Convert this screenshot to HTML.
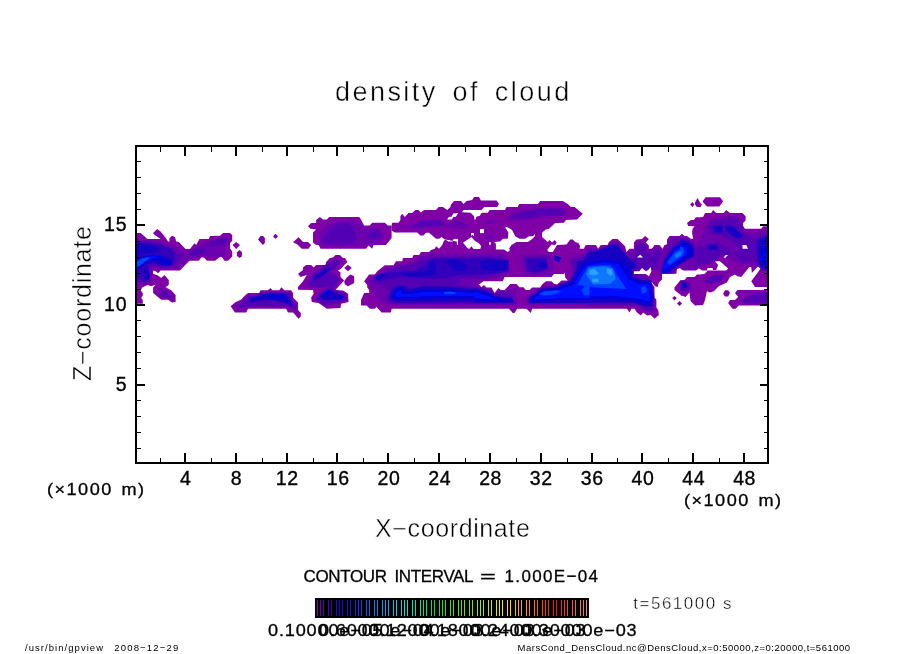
<!DOCTYPE html>
<html><head><meta charset="utf-8"><title>density of cloud</title>
<style>
html,body{margin:0;padding:0;background:#fff;}
body{width:904px;height:654px;overflow:hidden;position:relative;font-family:"Liberation Sans",sans-serif;color:#000;}
svg{position:absolute;left:0;top:0;}
.t{position:absolute;white-space:pre;line-height:1;margin:0;padding:0;}
</style></head><body>

<svg width="904" height="654" viewBox="0 0 904 654">
<defs><clipPath id="cp">
<polygon points="137.0,233.0 140.6,233.0 147.5,238.9 160.6,238.9 153.8,234.2 153.1,233.0 157.2,228.9 160.6,231.4 165.0,237.0 168.1,241.4 169.4,241.4 169.4,238.2 171.9,235.8 175.0,237.0 176.2,241.4 178.8,242.0 185.6,248.9 190.0,248.9 194.4,243.2 196.2,245.1 199.4,238.9 208.8,238.9 210.0,236.0 220.0,235.8 223.1,233.0 230.0,233.0 232.2,235.1 232.2,240.8 230.0,243.2 230.0,248.2 232.2,251.4 232.2,256.4 228.1,260.8 224.4,260.8 221.9,257.0 220.0,257.0 215.0,260.8 206.9,260.8 203.8,257.6 201.2,257.6 198.8,260.8 189.4,260.8 180.0,270.5 160.6,270.5 158.1,273.2 155.0,270.8 153.1,270.8 153.1,273.8 158.1,275.6 161.2,278.1 164.4,275.0 168.8,280.0 168.8,284.8 165.6,287.2 171.2,290.2 175.6,295.0 175.6,301.9 171.9,302.5 168.1,299.8 161.2,299.8 153.1,293.1 153.1,287.5 155.6,284.8 151.2,286.2 147.5,285.0 142.5,287.2 140.6,290.2 142.8,293.1 142.8,295.6 141.2,298.1 142.8,300.0 142.8,303.8 136.0,303.8 136.0,233.0"/>
<polygon points="232.5,245.1 236.2,242.0 240.0,245.1 236.2,248.9"/>
<polygon points="236.9,252.6 239.4,250.1 241.9,252.0 241.9,256.4 239.4,258.0 236.9,255.8"/>
<polygon points="230.6,306.2 235.0,302.5 241.2,299.4 244.2,296.2 248.0,293.1 259.2,293.1 260.5,290.2 268.0,290.2 270.5,288.1 272.4,290.2 279.2,290.2 281.5,287.2 284.2,290.2 291.1,290.2 293.0,293.1 293.0,297.5 298.0,302.5 298.0,310.0 300.8,313.1 300.8,316.2 298.6,318.8 293.0,312.5 288.0,312.5 286.1,308.8 248.0,308.8 246.2,312.5 235.0,312.5"/>
<polygon points="298.0,273.8 303.0,270.0 303.0,267.5 306.1,265.0 311.1,265.0 313.6,267.5 316.1,265.0 325.5,265.0 326.1,261.9 329.9,258.1 333.0,257.5 335.5,255.0 339.9,255.0 343.0,258.1 344.9,258.1 347.4,261.9 344.2,265.0 341.1,268.8 338.0,270.6 340.5,272.5 340.5,276.9 344.2,280.6 341.1,283.8 335.5,290.0 343.0,290.6 348.0,293.8 348.6,301.9 341.1,303.8 340.5,308.1 326.8,308.8 318.6,303.1 311.8,301.9 311.1,297.5 313.6,293.8 313.0,290.0 298.0,289.8 298.0,286.9 303.0,281.2 306.8,275.0 300.5,276.9"/>
<polygon points="344.2,268.1 348.0,264.8 351.8,268.1 348.0,271.2"/>
<polygon points="344.2,281.2 346.8,277.5 350.5,274.4 354.2,276.2 354.2,283.1 348.0,286.2 344.9,284.4"/>
<polygon points="258.0,239.4 260.5,236.0 263.0,236.0 264.9,238.1 264.9,243.1 263.0,245.0 261.1,243.1"/>
<polygon points="273.0,236.2 275.5,233.8 278.0,236.2 275.5,239.0"/>
<polygon points="293.0,242.2 298.6,237.2 303.0,241.9 308.0,241.9 311.1,245.0 308.6,248.8 301.8,248.8 297.4,244.4"/>
<polygon points="308.0,226.2 311.1,223.1 316.1,223.1 316.1,220.0 319.9,216.9 323.0,219.4 326.8,219.4 329.2,216.9 359.2,216.9 361.0,219.4 364.1,225.6 369.8,225.6 372.2,222.8 384.8,222.8 387.9,225.6 391.6,225.6 391.6,238.1 386.0,245.0 373.5,245.0 372.2,248.8 368.5,245.6 366.0,248.8 320.5,248.8 318.6,245.0 316.1,245.0 313.0,242.5 313.0,232.5 316.1,229.4 310.5,228.8"/>
<polygon points="391.6,230.6 391.6,225.6 392.2,222.8 398.5,222.8 400.4,220.0 400.4,216.2 402.2,213.8 404.8,216.9 408.5,213.1 412.2,213.1 415.4,210.0 418.5,210.0 421.0,212.5 424.1,210.0 436.0,210.0 438.5,207.1 442.9,207.1 447.2,210.0 450.4,207.1 451.0,204.4 454.1,201.0 461.0,201.0 463.5,204.0 466.6,201.0 472.2,200.0 474.0,196.9 479.0,196.9 480.9,200.6 496.5,200.6 499.0,204.0 497.1,207.1 506.5,207.1 517.8,207.1 519.0,204.0 537.8,204.0 540.2,201.0 562.8,201.0 567.8,204.0 570.9,207.1 574.6,207.1 582.8,213.8 577.1,219.4 565.9,220.0 564.0,222.8 555.2,223.1 549.0,228.8 545.9,229.4 542.1,232.5 542.1,236.9 547.8,241.9 549.6,240.0 552.1,242.5 554.6,240.0 556.8,242.5 555.2,245.0 557.1,245.0 566.5,244.4 570.2,239.4 572.8,239.4 575.2,241.9 578.4,243.1 580.2,246.2 579.6,248.8 584.0,248.8 585.2,245.6 587.0,245.0 587.0,245.0 595.8,245.0 598.2,248.8 600.8,245.0 607.6,245.0 608.9,241.9 612.6,239.0 617.6,239.0 625.1,246.2 626.4,251.9 629.5,248.8 633.9,248.8 633.9,242.5 636.4,239.4 642.0,239.0 645.1,236.0 648.9,239.0 645.8,242.5 648.9,245.6 648.9,248.8 652.0,248.8 654.5,245.0 659.5,245.0 662.6,248.8 664.5,245.0 667.0,244.4 667.0,239.4 669.5,236.0 679.5,236.0 682.0,233.8 684.5,236.0 687.0,236.0 690.8,238.8 693.2,238.8 692.0,232.5 692.6,228.8 694.5,226.2 688.2,226.0 687.0,223.1 690.8,220.0 693.9,220.0 695.8,217.2 700.0,217.2 703.1,216.9 705.0,213.1 711.2,213.1 713.1,210.0 716.2,213.1 723.8,213.1 726.2,210.0 730.0,213.1 742.5,213.1 745.6,216.2 745.6,220.6 743.1,223.1 743.1,226.2 745.0,228.8 761.2,228.8 763.1,226.2 768.0,226.2 768.0,287.2 755.0,286.9 751.2,281.2 760.6,268.8 758.1,266.2 751.9,273.1 751.2,266.9 749.4,266.9 741.2,276.9 737.5,276.2 735.0,274.4 730.0,276.9 726.9,282.5 718.8,286.2 713.8,291.2 710.0,292.5 706.9,291.2 705.0,300.0 703.1,305.0 695.0,305.6 690.6,301.2 689.4,292.5 685.6,296.9 680.0,295.0 683.2,296.9 674.5,290.0 674.5,287.5 680.1,280.6 684.5,280.0 687.0,276.9 694.5,276.9 697.0,274.4 700.0,274.4 700.0,274.4 705.0,273.8 707.5,270.6 726.2,270.6 728.1,268.5 720.0,261.2 715.0,261.2 718.1,265.0 716.2,270.0 713.1,270.0 712.5,268.1 707.5,268.1 706.9,270.6 701.9,270.6 698.8,268.1 696.2,270.6 683.1,270.6 680.0,268.1 677.0,268.8 676.4,273.8 662.0,273.8 662.0,279.4 658.9,282.5 657.6,286.9 655.1,286.2 652.0,282.5 650.8,281.9 654.5,286.9 654.5,297.5 656.4,299.4 656.4,307.5 658.2,310.0 658.9,315.0 654.5,318.8 650.8,315.0 647.0,315.6 643.2,312.5 640.8,315.6 637.0,312.5 634.5,308.8 631.4,308.8 629.5,312.5 627.0,308.8 587.0,308.8 532.1,308.8 530.9,313.1 526.5,308.8 517.1,308.8 514.6,313.1 512.8,313.1 509.0,308.8 474.0,308.8 391.6,308.8 391.0,312.5 381.6,312.5 376.6,306.9 374.8,308.8 369.8,308.8 366.6,305.6 361.0,305.6 361.0,300.0 364.1,293.1 369.1,293.1 369.1,290.0 367.2,287.5 367.2,285.0 364.1,281.2 369.1,274.4 374.8,274.4 377.2,271.2 384.8,265.2 393.5,265.2 396.0,261.2 402.2,261.2 402.9,258.1 412.2,258.1 413.5,255.0 419.1,255.0 421.0,251.9 429.1,251.9 431.0,250.0 434.8,248.8 436.0,246.2 439.1,248.8 442.2,245.0 444.1,240.6 446.0,239.8 444.8,239.4 441.6,236.9 439.1,238.8 436.0,238.8 429.1,232.8 426.0,232.8 423.5,235.6 420.4,235.6 417.2,232.5 394.8,232.5"/>
<polygon points="737.5,290.0 768.0,290.0 768.0,305.6 738.8,305.6 735.6,308.8 732.5,308.8 728.1,303.1 730.0,300.0 735.0,300.0 738.1,296.9 735.0,293.1"/>
<polygon points="723.1,293.8 725.0,290.2 728.1,290.2 730.0,293.1 728.1,296.5 725.0,296.5"/>
<polygon points="672.2,298.1 674.5,295.9 676.8,298.1 674.5,300.4"/>
<polygon points="677.0,303.5 679.5,301.0 682.0,303.5 679.5,306.0"/>
<polygon points="690.0,204.4 692.5,201.9 694.4,204.4 692.5,206.9"/>
<polygon points="695.0,202.5 697.5,198.1 700.0,202.5 701.9,204.4 700.6,206.9 696.9,206.9 695.0,204.4"/>
<polygon points="702.5,201.5 705.6,197.2 720.0,197.2 723.1,201.2 719.4,206.5 706.9,206.5"/>
</clipPath><clipPath id="fr"><rect x="137" y="147" width="630" height="315"/></clipPath>
<filter id="bl" x="-5%" y="-5%" width="110%" height="110%"><feGaussianBlur stdDeviation="0.6"/></filter></defs>
<g clip-path="url(#fr)">
<g fill="#8000a8">
<polygon points="137.0,233.0 140.6,233.0 147.5,238.9 160.6,238.9 153.8,234.2 153.1,233.0 157.2,228.9 160.6,231.4 165.0,237.0 168.1,241.4 169.4,241.4 169.4,238.2 171.9,235.8 175.0,237.0 176.2,241.4 178.8,242.0 185.6,248.9 190.0,248.9 194.4,243.2 196.2,245.1 199.4,238.9 208.8,238.9 210.0,236.0 220.0,235.8 223.1,233.0 230.0,233.0 232.2,235.1 232.2,240.8 230.0,243.2 230.0,248.2 232.2,251.4 232.2,256.4 228.1,260.8 224.4,260.8 221.9,257.0 220.0,257.0 215.0,260.8 206.9,260.8 203.8,257.6 201.2,257.6 198.8,260.8 189.4,260.8 180.0,270.5 160.6,270.5 158.1,273.2 155.0,270.8 153.1,270.8 153.1,273.8 158.1,275.6 161.2,278.1 164.4,275.0 168.8,280.0 168.8,284.8 165.6,287.2 171.2,290.2 175.6,295.0 175.6,301.9 171.9,302.5 168.1,299.8 161.2,299.8 153.1,293.1 153.1,287.5 155.6,284.8 151.2,286.2 147.5,285.0 142.5,287.2 140.6,290.2 142.8,293.1 142.8,295.6 141.2,298.1 142.8,300.0 142.8,303.8 136.0,303.8 136.0,233.0"/>
<polygon points="232.5,245.1 236.2,242.0 240.0,245.1 236.2,248.9"/>
<polygon points="236.9,252.6 239.4,250.1 241.9,252.0 241.9,256.4 239.4,258.0 236.9,255.8"/>
<polygon points="230.6,306.2 235.0,302.5 241.2,299.4 244.2,296.2 248.0,293.1 259.2,293.1 260.5,290.2 268.0,290.2 270.5,288.1 272.4,290.2 279.2,290.2 281.5,287.2 284.2,290.2 291.1,290.2 293.0,293.1 293.0,297.5 298.0,302.5 298.0,310.0 300.8,313.1 300.8,316.2 298.6,318.8 293.0,312.5 288.0,312.5 286.1,308.8 248.0,308.8 246.2,312.5 235.0,312.5"/>
<polygon points="298.0,273.8 303.0,270.0 303.0,267.5 306.1,265.0 311.1,265.0 313.6,267.5 316.1,265.0 325.5,265.0 326.1,261.9 329.9,258.1 333.0,257.5 335.5,255.0 339.9,255.0 343.0,258.1 344.9,258.1 347.4,261.9 344.2,265.0 341.1,268.8 338.0,270.6 340.5,272.5 340.5,276.9 344.2,280.6 341.1,283.8 335.5,290.0 343.0,290.6 348.0,293.8 348.6,301.9 341.1,303.8 340.5,308.1 326.8,308.8 318.6,303.1 311.8,301.9 311.1,297.5 313.6,293.8 313.0,290.0 298.0,289.8 298.0,286.9 303.0,281.2 306.8,275.0 300.5,276.9"/>
<polygon points="344.2,268.1 348.0,264.8 351.8,268.1 348.0,271.2"/>
<polygon points="344.2,281.2 346.8,277.5 350.5,274.4 354.2,276.2 354.2,283.1 348.0,286.2 344.9,284.4"/>
<polygon points="258.0,239.4 260.5,236.0 263.0,236.0 264.9,238.1 264.9,243.1 263.0,245.0 261.1,243.1"/>
<polygon points="273.0,236.2 275.5,233.8 278.0,236.2 275.5,239.0"/>
<polygon points="293.0,242.2 298.6,237.2 303.0,241.9 308.0,241.9 311.1,245.0 308.6,248.8 301.8,248.8 297.4,244.4"/>
<polygon points="308.0,226.2 311.1,223.1 316.1,223.1 316.1,220.0 319.9,216.9 323.0,219.4 326.8,219.4 329.2,216.9 359.2,216.9 361.0,219.4 364.1,225.6 369.8,225.6 372.2,222.8 384.8,222.8 387.9,225.6 391.6,225.6 391.6,238.1 386.0,245.0 373.5,245.0 372.2,248.8 368.5,245.6 366.0,248.8 320.5,248.8 318.6,245.0 316.1,245.0 313.0,242.5 313.0,232.5 316.1,229.4 310.5,228.8"/>
<polygon points="391.6,230.6 391.6,225.6 392.2,222.8 398.5,222.8 400.4,220.0 400.4,216.2 402.2,213.8 404.8,216.9 408.5,213.1 412.2,213.1 415.4,210.0 418.5,210.0 421.0,212.5 424.1,210.0 436.0,210.0 438.5,207.1 442.9,207.1 447.2,210.0 450.4,207.1 451.0,204.4 454.1,201.0 461.0,201.0 463.5,204.0 466.6,201.0 472.2,200.0 474.0,196.9 479.0,196.9 480.9,200.6 496.5,200.6 499.0,204.0 497.1,207.1 506.5,207.1 517.8,207.1 519.0,204.0 537.8,204.0 540.2,201.0 562.8,201.0 567.8,204.0 570.9,207.1 574.6,207.1 582.8,213.8 577.1,219.4 565.9,220.0 564.0,222.8 555.2,223.1 549.0,228.8 545.9,229.4 542.1,232.5 542.1,236.9 547.8,241.9 549.6,240.0 552.1,242.5 554.6,240.0 556.8,242.5 555.2,245.0 557.1,245.0 566.5,244.4 570.2,239.4 572.8,239.4 575.2,241.9 578.4,243.1 580.2,246.2 579.6,248.8 584.0,248.8 585.2,245.6 587.0,245.0 587.0,245.0 595.8,245.0 598.2,248.8 600.8,245.0 607.6,245.0 608.9,241.9 612.6,239.0 617.6,239.0 625.1,246.2 626.4,251.9 629.5,248.8 633.9,248.8 633.9,242.5 636.4,239.4 642.0,239.0 645.1,236.0 648.9,239.0 645.8,242.5 648.9,245.6 648.9,248.8 652.0,248.8 654.5,245.0 659.5,245.0 662.6,248.8 664.5,245.0 667.0,244.4 667.0,239.4 669.5,236.0 679.5,236.0 682.0,233.8 684.5,236.0 687.0,236.0 690.8,238.8 693.2,238.8 692.0,232.5 692.6,228.8 694.5,226.2 688.2,226.0 687.0,223.1 690.8,220.0 693.9,220.0 695.8,217.2 700.0,217.2 703.1,216.9 705.0,213.1 711.2,213.1 713.1,210.0 716.2,213.1 723.8,213.1 726.2,210.0 730.0,213.1 742.5,213.1 745.6,216.2 745.6,220.6 743.1,223.1 743.1,226.2 745.0,228.8 761.2,228.8 763.1,226.2 768.0,226.2 768.0,287.2 755.0,286.9 751.2,281.2 760.6,268.8 758.1,266.2 751.9,273.1 751.2,266.9 749.4,266.9 741.2,276.9 737.5,276.2 735.0,274.4 730.0,276.9 726.9,282.5 718.8,286.2 713.8,291.2 710.0,292.5 706.9,291.2 705.0,300.0 703.1,305.0 695.0,305.6 690.6,301.2 689.4,292.5 685.6,296.9 680.0,295.0 683.2,296.9 674.5,290.0 674.5,287.5 680.1,280.6 684.5,280.0 687.0,276.9 694.5,276.9 697.0,274.4 700.0,274.4 700.0,274.4 705.0,273.8 707.5,270.6 726.2,270.6 728.1,268.5 720.0,261.2 715.0,261.2 718.1,265.0 716.2,270.0 713.1,270.0 712.5,268.1 707.5,268.1 706.9,270.6 701.9,270.6 698.8,268.1 696.2,270.6 683.1,270.6 680.0,268.1 677.0,268.8 676.4,273.8 662.0,273.8 662.0,279.4 658.9,282.5 657.6,286.9 655.1,286.2 652.0,282.5 650.8,281.9 654.5,286.9 654.5,297.5 656.4,299.4 656.4,307.5 658.2,310.0 658.9,315.0 654.5,318.8 650.8,315.0 647.0,315.6 643.2,312.5 640.8,315.6 637.0,312.5 634.5,308.8 631.4,308.8 629.5,312.5 627.0,308.8 587.0,308.8 532.1,308.8 530.9,313.1 526.5,308.8 517.1,308.8 514.6,313.1 512.8,313.1 509.0,308.8 474.0,308.8 391.6,308.8 391.0,312.5 381.6,312.5 376.6,306.9 374.8,308.8 369.8,308.8 366.6,305.6 361.0,305.6 361.0,300.0 364.1,293.1 369.1,293.1 369.1,290.0 367.2,287.5 367.2,285.0 364.1,281.2 369.1,274.4 374.8,274.4 377.2,271.2 384.8,265.2 393.5,265.2 396.0,261.2 402.2,261.2 402.9,258.1 412.2,258.1 413.5,255.0 419.1,255.0 421.0,251.9 429.1,251.9 431.0,250.0 434.8,248.8 436.0,246.2 439.1,248.8 442.2,245.0 444.1,240.6 446.0,239.8 444.8,239.4 441.6,236.9 439.1,238.8 436.0,238.8 429.1,232.8 426.0,232.8 423.5,235.6 420.4,235.6 417.2,232.5 394.8,232.5"/>
<polygon points="737.5,290.0 768.0,290.0 768.0,305.6 738.8,305.6 735.6,308.8 732.5,308.8 728.1,303.1 730.0,300.0 735.0,300.0 738.1,296.9 735.0,293.1"/>
<polygon points="723.1,293.8 725.0,290.2 728.1,290.2 730.0,293.1 728.1,296.5 725.0,296.5"/>
<polygon points="672.2,298.1 674.5,295.9 676.8,298.1 674.5,300.4"/>
<polygon points="677.0,303.5 679.5,301.0 682.0,303.5 679.5,306.0"/>
<polygon points="690.0,204.4 692.5,201.9 694.4,204.4 692.5,206.9"/>
<polygon points="695.0,202.5 697.5,198.1 700.0,202.5 701.9,204.4 700.6,206.9 696.9,206.9 695.0,204.4"/>
<polygon points="702.5,201.5 705.6,197.2 720.0,197.2 723.1,201.2 719.4,206.5 706.9,206.5"/>
</g>
<g clip-path="url(#cp)"><g filter="url(#bl)">
<g fill="#6a00ae">
<polygon points="136.0,239.5 146.2,240.1 160.0,240.8 167.5,243.2 172.5,245.8 177.5,247.0 185.0,252.0 193.8,248.9 200.0,244.5 210.0,240.8 222.5,237.0 228.8,237.0 230.0,242.0 226.2,247.0 225.0,254.5 215.0,257.0 205.0,255.8 197.5,257.0 187.5,259.5 178.8,268.2 160.0,268.9 152.5,269.5 151.2,282.0 147.5,284.5 142.5,284.5 136.0,287.0"/>
<polygon points="156.2,292.0 160.0,288.2 166.2,289.5 172.5,295.8 172.5,300.8 167.5,298.2 160.0,297.0 156.2,294.5"/>
<polygon points="236.8,305.0 245.5,298.1 248.0,295.0 259.2,294.4 261.8,291.9 290.5,291.9 292.0,300.0 296.8,305.0 296.8,311.2 290.5,308.1 285.5,306.9 248.0,307.2 236.8,310.0"/>
<polygon points="306.8,282.5 314.2,272.5 326.8,263.1 335.5,258.8 341.8,260.6 336.8,267.5 330.5,272.5 336.8,275.0 340.5,280.0 334.2,288.8 328.0,286.9 320.5,288.1 309.2,287.5"/>
<polygon points="314.2,298.1 321.8,291.2 329.2,285.6 334.9,289.4 346.1,293.1 347.4,300.6 338.0,303.1 325.5,306.2 317.4,301.9"/>
<polygon points="320.5,232.5 325.5,226.2 335.5,221.2 354.2,220.0 361.0,225.0 368.5,231.2 371.0,228.1 379.8,228.1 384.1,235.0 383.5,240.0 373.5,243.1 354.2,246.2 323.0,246.2 319.9,241.2"/>
<polygon points="397.2,225.0 413.5,225.0 421.0,220.0 441.0,218.8 446.0,225.0 456.0,220.0 471.0,225.0 464.8,228.8 447.2,227.5 428.5,227.5 414.8,229.4 402.2,227.5"/>
<polygon points="506.5,217.5 511.5,212.5 524.0,210.0 539.0,207.5 561.5,207.5 567.1,210.6 564.0,215.6 544.0,216.9 531.5,219.4 515.2,220.6 507.8,219.4"/>
<polygon points="485.9,220.0 495.9,220.0 495.9,223.8 485.9,223.8"/>
<polygon points="485.9,234.4 495.2,234.4 495.2,238.8 485.9,238.8"/>
<polygon points="368.5,280.0 377.2,275.0 386.0,268.8 396.0,265.0 413.5,261.2 421.0,256.2 431.0,253.8 477.9,253.8 477.9,305.0 392.2,305.0 383.5,302.5 376.0,297.5 371.0,287.5"/>
<polygon points="474.0,253.8 504.0,253.8 509.0,260.0 510.2,272.5 504.0,276.2 482.8,280.6 474.0,281.2"/>
<polygon points="521.5,255.0 549.0,253.8 554.0,262.5 551.5,275.0 524.0,275.6 520.2,265.0"/>
<polygon points="569.0,257.5 589.6,252.5 589.6,305.0 526.5,305.0 525.2,297.5 541.5,286.2 554.0,285.0 569.0,281.2 571.5,272.5"/>
<polygon points="474.0,286.2 481.5,287.5 491.5,288.8 494.6,293.8 499.0,290.0 505.2,291.2 515.2,287.5 517.8,305.0 474.0,305.0"/>
<polygon points="587.0,247.5 594.5,247.5 598.2,250.6 602.0,247.5 608.2,246.9 613.2,241.2 617.6,241.2 623.2,247.5 625.8,253.8 629.5,251.2 635.1,250.6 635.8,243.8 642.0,241.2 645.1,238.8 647.0,240.0 645.1,243.1 648.2,250.0 654.5,247.5 659.5,247.5 662.5,251.2 668.2,241.2 670.8,238.1 679.5,238.1 685.8,238.1 690.8,241.2 694.5,240.6 694.5,251.2 700.0,251.2 700.0,270.0 587.0,270.0"/>
<polygon points="587.0,270.0 630.8,270.0 637.0,262.5 634.5,270.0 649.5,277.5 653.2,287.5 655.1,300.0 654.5,312.5 647.0,312.5 637.0,306.2 624.5,306.2 587.0,306.2"/>
<polygon points="740.0,301.2 753.8,293.1 768.0,291.5 768.0,303.8 742.5,304.0"/>
<polygon points="705.0,227.5 708.8,220.0 717.5,217.5 736.2,216.2 742.5,221.2 745.0,231.2 750.0,233.8 757.5,231.2 768.0,230.0 768.0,271.0 760.0,271.0 755.0,265.0 742.5,265.0 730.0,260.0 717.5,252.5 705.0,250.0 698.8,260.0 692.5,265.0 680.0,267.5 680.0,237.5 687.5,240.0 696.2,245.0 700.0,240.0"/>
</g>
<g fill="#5200b4">
<polygon points="136.0,240.8 150.0,242.0 162.5,243.9 172.5,248.2 176.2,253.2 182.5,255.8 176.2,263.2 170.0,267.6 160.0,267.6 152.5,265.8 148.8,268.2 150.0,280.8 146.2,283.2 141.2,280.8 136.0,284.5"/>
<polygon points="208.8,242.0 216.2,240.8 222.5,238.2 227.5,238.2 227.5,242.0 222.5,243.9 217.5,245.8 210.0,245.8"/>
<polygon points="188.8,252.0 197.5,247.0 205.0,248.2 206.2,252.0 200.0,254.5 191.2,255.8"/>
<polygon points="158.8,292.0 165.0,290.8 171.2,297.0 168.8,298.2 161.2,295.8"/>
<polygon points="240.5,303.8 248.0,296.0 259.2,295.2 261.8,292.8 290.5,292.8 291.8,300.0 296.1,305.0 296.1,310.0 290.5,307.5 285.5,305.6 248.0,306.2 238.0,308.8"/>
<polygon points="308.0,281.2 315.5,272.5 328.0,263.8 335.5,260.0 340.5,261.2 335.5,267.5 329.2,272.5 335.5,275.0 339.2,280.0 333.0,287.5 328.0,286.2 320.5,287.5 310.5,286.2"/>
<polygon points="315.5,297.5 323.0,291.2 329.2,286.2 334.2,290.0 345.5,293.8 346.8,300.0 338.0,302.5 325.5,305.0 318.0,301.2"/>
<polygon points="328.0,232.5 335.5,223.8 348.0,221.9 354.2,228.8 356.8,238.8 350.5,243.8 325.5,243.8 321.8,238.8"/>
<polygon points="368.5,232.5 371.0,229.4 378.5,229.4 381.6,236.2 373.5,239.4 368.5,237.5"/>
<polygon points="413.5,224.4 421.0,221.2 441.0,220.6 443.5,225.0 428.5,226.2 414.8,227.5"/>
<polygon points="453.5,221.9 461.0,221.9 462.2,224.4 454.8,225.0"/>
<polygon points="510.2,216.2 524.0,211.2 539.0,208.8 561.5,208.8 565.2,211.9 561.5,215.0 544.0,215.6 531.5,218.1 515.2,218.8"/>
<polygon points="372.2,280.0 379.8,275.0 387.2,270.0 397.2,267.5 414.8,263.8 423.5,257.5 477.9,256.2 477.9,277.5 461.0,278.8 458.5,285.0 477.9,287.5 477.9,303.8 392.2,303.8 386.0,300.0 388.5,291.2 383.5,285.0 376.0,283.8"/>
<polygon points="474.0,256.2 499.0,256.2 507.8,261.2 507.8,271.2 499.0,275.0 481.5,278.8 474.0,278.8"/>
<polygon points="524.0,257.5 546.5,256.2 549.0,268.8 536.5,273.8 526.5,271.2"/>
<polygon points="571.5,260.0 589.6,255.0 589.6,303.8 527.8,303.8 527.8,297.5 541.5,287.5 555.2,285.6 570.2,282.5 574.0,272.5"/>
<polygon points="474.0,287.5 489.0,290.0 494.6,295.0 499.0,291.9 511.5,292.5 515.2,303.8 474.0,303.8"/>
<polygon points="587.0,250.0 607.0,248.8 612.0,242.5 618.2,242.5 623.2,251.2 630.8,260.0 637.0,253.8 635.8,247.5 642.0,242.5 645.8,245.0 645.8,251.2 650.8,255.0 654.5,250.0 659.5,250.0 662.0,255.0 657.0,265.0 652.0,270.0 637.0,270.0 634.5,276.0 587.0,276.0"/>
<polygon points="659.5,276.0 662.0,262.5 668.2,250.0 674.5,242.5 687.0,238.8 693.2,243.8 694.5,252.5 687.0,260.0 677.0,267.5 672.0,276.0"/>
<polygon points="587.0,275.0 629.5,275.0 632.0,272.5 648.2,278.8 652.0,287.5 653.9,300.0 653.2,310.0 647.0,310.0 637.0,305.0 587.0,305.0"/>
<polygon points="705.0,280.0 712.5,275.0 723.8,275.0 721.2,281.2 711.2,283.8 705.0,282.5"/>
<polygon points="680.0,278.8 690.0,282.5 691.2,290.0 685.0,291.2 680.0,291.2"/>
<polygon points="742.5,300.0 755.0,293.8 768.0,292.5 768.0,302.5 745.0,302.5"/>
<polygon points="706.9,227.5 711.2,221.2 720.0,219.4 735.0,218.1 741.2,223.8 743.8,233.8 750.0,236.2 755.0,240.0 753.8,255.0 740.0,248.8 730.0,240.0 721.2,235.0 711.2,233.8"/>
<polygon points="696.2,248.8 705.0,245.0 717.5,242.5 727.5,247.5 732.5,255.0 721.2,255.0 717.5,260.0 705.0,265.0 697.5,263.8 696.2,257.5"/>
<polygon points="705.0,245.0 717.5,242.5 718.8,250.0 707.5,251.2"/>
<polygon points="733.8,252.5 742.5,250.0 755.0,252.5 756.2,260.0 742.5,262.5"/>
<polygon points="755.0,237.5 768.0,232.5 768.0,271.0 761.2,270.0 756.2,265.0 755.0,252.5"/>
<polygon points="680.0,238.1 687.5,240.0 695.6,246.2 695.6,257.5 687.5,261.2 680.0,261.9"/>
</g>
<g fill="#3200bc">
<polygon points="136.0,242.0 147.5,242.6 160.0,245.1 170.0,248.2 175.0,253.2 173.8,262.0 170.0,265.8 160.0,265.8 153.8,263.2 147.5,265.8 148.8,279.5 145.0,282.0 140.0,277.0 136.0,282.0"/>
<polygon points="374.8,279.4 381.0,273.8 398.5,270.6 413.5,271.2 426.0,262.5 436.0,257.5 477.9,258.8 477.9,275.0 458.5,275.0 448.5,277.5 436.0,278.8 411.0,278.1 398.5,276.9 386.0,279.4 378.5,281.2"/>
<polygon points="388.5,300.0 391.0,290.0 398.5,285.0 404.8,285.0 411.0,288.8 423.5,285.6 448.5,286.2 477.9,288.8 477.9,302.5 398.5,303.1"/>
<polygon points="469.0,258.8 486.5,257.8 508.8,259.8 508.8,271.2 494.0,273.5 479.0,274.8 469.0,275.0"/>
<polygon points="525.2,258.8 545.9,257.5 548.0,268.8 536.5,272.8 527.5,270.6"/>
</g>
<g fill="#1600c4">
<polygon points="136.0,243.2 146.2,243.9 156.2,247.0 160.0,250.8 153.8,252.6 142.5,254.5 136.0,258.2"/>
<polygon points="136.0,259.5 142.5,256.4 153.8,253.9 165.0,256.4 172.5,260.8 172.5,265.1 168.8,265.8 160.0,264.5 152.5,262.0 146.2,263.9 140.0,269.5 136.0,272.0"/>
<polygon points="143.8,269.5 148.8,267.0 149.8,278.2 146.2,280.8 143.8,277.0"/>
<polygon points="248.0,299.4 259.2,294.4 270.5,293.1 285.5,293.8 290.5,299.4 291.8,305.6 285.5,303.1 273.0,300.0 260.5,300.6 250.5,302.5"/>
<polygon points="313.0,278.8 318.0,273.8 328.0,266.9 331.1,268.8 323.0,275.6 315.5,280.0"/>
<polygon points="319.2,296.2 328.0,288.8 333.0,291.9 344.2,296.2 343.0,299.4 323.0,300.0"/>
<polygon points="389.8,298.8 392.2,291.2 398.5,286.2 403.5,286.2 407.2,290.0 423.5,286.9 448.5,287.5 477.9,290.0 477.9,300.6 398.5,301.2"/>
<polygon points="398.5,272.5 413.5,273.1 428.5,270.6 429.8,261.2 434.8,261.2 436.0,273.8 428.5,276.2 408.5,276.2"/>
<polygon points="446.0,261.2 456.0,258.8 467.2,265.0 464.8,271.2 453.5,270.0"/>
<polygon points="373.5,278.1 381.0,273.1 386.0,275.0 378.5,280.6"/>
<polygon points="479.0,262.5 486.5,260.0 507.8,260.6 506.5,270.0 492.8,271.2 481.5,268.8"/>
<polygon points="536.5,262.5 546.5,262.5 546.5,268.1 539.0,267.5"/>
<polygon points="554.0,255.0 561.5,257.5 559.0,262.5 554.0,260.0"/>
<polygon points="576.5,262.5 589.6,257.5 589.6,303.1 529.0,303.1 529.0,298.1 541.5,288.8 556.5,286.9 571.5,283.8 577.8,275.0"/>
<polygon points="474.0,288.1 481.5,289.4 491.5,293.1 499.0,296.9 511.5,297.5 514.0,302.5 474.0,303.1"/>
<polygon points="587.0,253.8 599.5,250.0 609.5,245.0 618.2,245.0 623.2,253.8 634.5,262.5 637.0,267.5 628.2,271.2 624.5,276.0 587.0,276.0"/>
<polygon points="660.8,275.0 664.5,260.0 672.0,248.8 680.8,242.5 688.2,241.2 693.2,246.2 693.2,253.8 684.5,261.2 674.5,267.5 668.2,273.8"/>
<polygon points="560.0,284.4 570.8,280.6 576.4,269.4 583.9,261.0 587.0,252.5 624.5,252.5 630.8,262.5 632.6,276.5 640.8,280.0 651.4,280.6 653.9,295.8 652.6,306.2 647.0,306.9 634.4,303.1 613.1,302.5 560.0,303.1"/>
<polygon points="681.2,283.1 686.2,282.5 687.5,287.5 682.5,288.8"/>
<polygon points="713.1,226.2 722.5,225.6 723.1,232.5 714.4,232.5"/>
<polygon points="724.4,225.6 732.5,226.2 742.5,235.0 741.2,238.8 732.5,236.2 726.2,231.2"/>
<polygon points="708.1,245.6 716.9,244.4 717.5,249.4 708.8,250.0"/>
<polygon points="757.5,240.0 768.0,235.0 768.0,270.0 761.2,267.5 757.5,260.0"/>
<polygon points="680.0,240.0 687.5,241.2 693.8,247.5 693.8,256.2 686.2,260.0 680.0,260.6"/>
</g>
<g fill="#0400d8">
<polygon points="136.0,260.8 142.5,257.6 153.8,254.8 163.8,257.6 171.2,262.0 171.2,264.5 163.8,263.2 153.8,259.5 145.0,262.0 138.8,267.6 136.0,268.9"/>
<polygon points="266.8,295.6 273.0,294.0 285.5,295.0 286.8,298.1 279.2,298.5 269.2,298.1"/>
<polygon points="321.8,293.8 329.2,289.4 331.8,292.5 328.0,295.2"/>
<polygon points="391.6,297.5 393.8,292.5 398.5,288.1 402.5,288.1 404.8,292.5 423.5,289.4 448.5,289.8 477.9,291.9 477.9,297.8 398.5,298.8"/>
<polygon points="474.0,290.6 480.2,291.5 489.0,295.0 499.0,298.5 510.2,300.2 511.0,301.5 489.0,301.0 474.0,299.4"/>
<polygon points="530.9,298.1 541.5,291.0 556.5,289.0 572.1,286.5 579.6,278.1 584.6,269.4 589.6,267.5 589.6,300.0 561.5,299.8 530.9,301.2"/>
<polygon points="587.0,260.0 599.5,262.5 607.0,265.0 615.8,265.0 619.5,270.0 622.0,276.0 587.0,276.0"/>
<polygon points="662.0,271.2 665.8,260.0 674.5,247.5 685.8,243.1 692.0,247.5 692.0,253.1 683.2,260.6 674.5,266.2 667.0,272.5"/>
<polygon points="560.0,286.9 572.0,282.8 578.2,271.2 585.1,263.1 603.2,259.0 620.8,260.6 628.9,268.8 630.8,278.1 640.1,281.9 650.1,282.2 652.2,295.8 651.0,303.8 634.4,300.6 613.1,299.4 560.0,300.0"/>
<polygon points="680.0,242.5 686.2,243.1 691.2,248.8 691.2,255.0 685.0,258.8 680.0,259.4"/>
<polygon points="760.0,250.0 768.0,245.0 768.0,265.0 762.5,263.8"/>
</g>
<g fill="#0010ff">
<polygon points="136.0,262.0 142.5,258.5 152.5,256.0 160.0,257.6 153.8,258.2 146.2,260.8 140.0,265.1 136.0,267.0"/>
<polygon points="394.8,296.0 397.5,291.2 400.5,289.5 402.5,294.0 413.5,293.8 423.5,291.9 448.5,291.5 461.0,292.0 477.9,293.5 477.9,296.0 436.0,296.0 411.0,296.8 398.5,297.0"/>
<polygon points="474.0,291.9 479.0,292.8 486.5,295.6 495.2,298.8 486.5,299.0 474.0,298.1"/>
<polygon points="534.0,298.1 542.1,292.5 556.5,290.2 573.4,287.5 580.9,280.0 585.9,271.9 589.6,270.6 589.6,298.1 561.5,298.1 535.2,299.8"/>
<polygon points="662.6,269.4 667.0,260.0 674.5,250.0 682.0,246.2 687.0,248.1 687.0,254.4 677.0,261.2 668.2,267.5 665.1,270.0"/>
<polygon points="560.0,289.1 573.2,285.1 579.9,273.2 586.6,265.2 603.9,262.5 618.4,263.9 629.0,279.9 639.6,283.9 649.0,284.0 650.5,295.8 649.5,301.5 634.4,298.1 613.1,296.0 560.0,297.1"/>
<polygon points="680.0,245.0 683.8,245.6 686.2,250.0 685.6,255.0 680.0,258.1"/>
<polygon points="764.4,254.4 768.0,252.5 768.0,261.9 765.2,260.6"/>
</g>
<g fill="#0044ff">
<polygon points="136.0,261.8 142.5,258.2 150.0,257.0 146.2,261.0 140.0,265.5 136.0,267.2"/>
<polygon points="443.5,292.0 449.8,291.5 456.6,292.5 454.8,294.0 444.8,294.2"/>
<polygon points="539.0,293.8 544.0,291.2 556.5,290.2 561.5,291.2 554.0,294.4 544.0,295.6"/>
<polygon points="581.5,290.0 586.5,283.8 589.6,281.2 589.6,295.0 584.0,295.6"/>
<polygon points="667.0,262.5 674.5,252.5 680.8,248.8 684.5,250.6 683.2,255.0 675.8,260.0 669.5,265.0"/>
<polygon points="577.2,285.1 583.9,273.2 587.9,266.5 599.9,265.2 610.5,265.2 618.4,277.1 626.4,289.1 599.9,287.8"/>
<polygon points="640.8,287.5 645.8,286.2 647.0,292.5 642.0,293.8"/>
<polygon points="680.0,246.9 682.5,247.5 684.4,251.2 682.5,255.6 680.0,256.9"/>
</g>
<g fill="#0c78ff">
<polygon points="674.5,255.0 679.5,251.2 682.0,252.5 680.1,256.2 675.8,258.1"/>
<polygon points="585.9,274.5 588.5,267.9 599.9,266.5 606.5,266.5 613.1,268.5 615.8,278.5 610.5,283.8 593.2,284.5"/>
</g>
<g fill="#2ca0ff">
<polygon points="589.5,270.0 594.5,268.8 598.9,273.8 594.5,275.6 588.9,274.4"/>
<polygon points="607.0,268.8 611.4,268.8 613.0,274.4 609.5,275.6 606.8,272.5"/>
<polygon points="592.0,278.8 598.2,278.5 598.9,281.9 592.6,282.5"/>
</g>
</g></g>
<g fill="#fff">
<polygon points="447.1,219.6 448.8,217.1 451.5,216.7 453.3,213.4 458.1,213.0 455.9,216.7 453.3,217.1 451.9,219.6"/>
<polygon points="456.6,239.4 457.9,239.4 457.9,245.0 457.0,245.0"/>
<polygon points="463.0,242.8 471.4,237.0 475.0,241.0 478.9,243.2 481.2,246.3 480.3,249.0 473.6,249.0 471.4,246.3 469.2,249.0 467.4,248.1"/>
<polygon points="445.3,239.6 448.0,241.5 452.8,241.5 453.3,239.2 455.9,238.8 458.1,239.2 458.1,241.0 456.4,241.5"/>
<polygon points="471.6,234.0 474.0,233.1 474.0,236.2"/>
<polygon points="462.1,212.3 463.5,210.0 481.6,210.0 484.2,207.1 497.0,207.1 506.5,207.1 505.0,210.0 489.6,210.0 487.8,212.7 481.6,212.7 479.8,215.8 476.3,216.7 475.8,219.3 474.5,219.8 474.1,216.2 470.5,212.7"/>
<polygon points="471.0,233.0 474.1,232.9 471.4,236.1"/>
<polygon points="505.2,227.5 507.1,226.9 512.1,230.0 515.2,236.2 519.6,238.8 525.2,238.8 529.0,236.2 532.8,236.2 535.0,234.0 535.0,236.2 531.5,239.4 527.8,241.9 516.5,241.9 511.5,245.0 509.0,248.8 510.2,250.0 507.8,251.9 504.0,249.4 495.9,249.4 495.9,243.8 494.0,241.9 500.2,241.5 502.8,238.8 507.8,238.8 508.4,232.5"/>
<polygon points="480.0,229.0 484.0,229.0 484.0,233.1 480.0,233.1"/>
<polygon points="489.0,242.2 490.9,242.2 490.9,244.4 489.0,245.0"/>
<polygon points="555.2,245.0 551.5,244.4 547.1,250.0 549.0,251.9 552.8,251.9 557.1,245.0"/>
<polygon points="479.0,284.4 483.4,281.2 502.8,281.2 504.6,276.9 551.5,276.9 554.0,274.0 564.0,274.0 564.6,272.5 565.2,277.5 567.8,280.6 561.5,280.6 557.1,284.4 554.0,283.8 551.5,281.2 545.9,281.2 542.1,284.4 540.2,287.5 532.1,287.5 529.6,290.0 525.9,290.0 523.4,287.2 519.6,287.2 516.5,284.0 510.2,284.0 504.6,290.0 500.9,290.0 498.4,288.1 494.6,293.1 491.5,287.5 486.5,287.5 484.0,285.0 481.5,286.9"/>
<polygon points="637.0,257.5 640.1,254.8 643.2,257.5"/>
<polygon points="633.9,271.2 639.5,271.2 642.0,268.1 645.8,271.2 648.2,270.0 650.8,266.9 651.4,271.2 648.9,276.2 645.8,274.0 633.9,274.0"/>
<polygon points="742.5,245.0 746.2,245.0 748.1,248.8 742.5,248.8"/>
<polygon points="723.8,257.5 725.6,255.0 728.1,255.0 725.0,258.1"/>
</g>
</g>
<g fill="#000" shape-rendering="crispEdges">
<rect x="135" y="145" width="634" height="2"/>
<rect x="135" y="462" width="634" height="2"/>
<rect x="135" y="145" width="2" height="319"/>
<rect x="767" y="145" width="2" height="319"/>
<rect x="160" y="147" width="1" height="5"/>
<rect x="160" y="458" width="1" height="4"/>
<rect x="184" y="147" width="2" height="9"/>
<rect x="184" y="453" width="2" height="9"/>
<rect x="211" y="147" width="1" height="5"/>
<rect x="211" y="458" width="1" height="4"/>
<rect x="235" y="147" width="2" height="9"/>
<rect x="235" y="453" width="2" height="9"/>
<rect x="262" y="147" width="1" height="5"/>
<rect x="262" y="458" width="1" height="4"/>
<rect x="286" y="147" width="2" height="9"/>
<rect x="286" y="453" width="2" height="9"/>
<rect x="313" y="147" width="1" height="5"/>
<rect x="313" y="458" width="1" height="4"/>
<rect x="336" y="147" width="2" height="9"/>
<rect x="336" y="453" width="2" height="9"/>
<rect x="363" y="147" width="1" height="5"/>
<rect x="363" y="458" width="1" height="4"/>
<rect x="387" y="147" width="2" height="9"/>
<rect x="387" y="453" width="2" height="9"/>
<rect x="414" y="147" width="1" height="5"/>
<rect x="414" y="458" width="1" height="4"/>
<rect x="438" y="147" width="2" height="9"/>
<rect x="438" y="453" width="2" height="9"/>
<rect x="465" y="147" width="1" height="5"/>
<rect x="465" y="458" width="1" height="4"/>
<rect x="489" y="147" width="2" height="9"/>
<rect x="489" y="453" width="2" height="9"/>
<rect x="516" y="147" width="1" height="5"/>
<rect x="516" y="458" width="1" height="4"/>
<rect x="540" y="147" width="2" height="9"/>
<rect x="540" y="453" width="2" height="9"/>
<rect x="567" y="147" width="1" height="5"/>
<rect x="567" y="458" width="1" height="4"/>
<rect x="591" y="147" width="2" height="9"/>
<rect x="591" y="453" width="2" height="9"/>
<rect x="617" y="147" width="1" height="5"/>
<rect x="617" y="458" width="1" height="4"/>
<rect x="641" y="147" width="2" height="9"/>
<rect x="641" y="453" width="2" height="9"/>
<rect x="668" y="147" width="1" height="5"/>
<rect x="668" y="458" width="1" height="4"/>
<rect x="692" y="147" width="2" height="9"/>
<rect x="692" y="453" width="2" height="9"/>
<rect x="719" y="147" width="1" height="5"/>
<rect x="719" y="458" width="1" height="4"/>
<rect x="743" y="147" width="2" height="9"/>
<rect x="743" y="453" width="2" height="9"/>
<rect x="137" y="448" width="4" height="1"/>
<rect x="764" y="448" width="3" height="1"/>
<rect x="137" y="432" width="4" height="1"/>
<rect x="764" y="432" width="3" height="1"/>
<rect x="137" y="416" width="4" height="1"/>
<rect x="764" y="416" width="3" height="1"/>
<rect x="137" y="400" width="4" height="1"/>
<rect x="764" y="400" width="3" height="1"/>
<rect x="137" y="384" width="8" height="2"/>
<rect x="760" y="384" width="7" height="2"/>
<rect x="137" y="368" width="4" height="1"/>
<rect x="764" y="368" width="3" height="1"/>
<rect x="137" y="352" width="4" height="1"/>
<rect x="764" y="352" width="3" height="1"/>
<rect x="137" y="336" width="4" height="1"/>
<rect x="764" y="336" width="3" height="1"/>
<rect x="137" y="320" width="4" height="1"/>
<rect x="764" y="320" width="3" height="1"/>
<rect x="137" y="304" width="8" height="2"/>
<rect x="760" y="304" width="7" height="2"/>
<rect x="137" y="289" width="4" height="1"/>
<rect x="764" y="289" width="3" height="1"/>
<rect x="137" y="273" width="4" height="1"/>
<rect x="764" y="273" width="3" height="1"/>
<rect x="137" y="257" width="4" height="1"/>
<rect x="764" y="257" width="3" height="1"/>
<rect x="137" y="241" width="4" height="1"/>
<rect x="764" y="241" width="3" height="1"/>
<rect x="137" y="224" width="8" height="2"/>
<rect x="760" y="224" width="7" height="2"/>
<rect x="137" y="209" width="4" height="1"/>
<rect x="764" y="209" width="3" height="1"/>
<rect x="137" y="193" width="4" height="1"/>
<rect x="764" y="193" width="3" height="1"/>
<rect x="137" y="177" width="4" height="1"/>
<rect x="764" y="177" width="3" height="1"/>
<rect x="137" y="161" width="4" height="1"/>
<rect x="764" y="161" width="3" height="1"/>
</g>
<g shape-rendering="crispEdges"><rect x="315" y="598" width="274" height="20" fill="#000"/>
<rect x="317" y="600" width="1" height="16" fill="#8800a0"/>
<rect x="320" y="600" width="1" height="16" fill="#7600a8"/>
<rect x="323" y="600" width="1" height="16" fill="#6400b0"/>
<rect x="328" y="600" width="1" height="16" fill="#4800ba"/>
<rect x="331" y="600" width="1" height="16" fill="#3800c0"/>
<rect x="336" y="600" width="1" height="16" fill="#1f0aca"/>
<rect x="339" y="600" width="1" height="16" fill="#1010d0"/>
<rect x="342" y="600" width="1" height="16" fill="#0c14d7"/>
<rect x="347" y="600" width="1" height="16" fill="#041ce1"/>
<rect x="350" y="600" width="1" height="16" fill="#0020e8"/>
<rect x="355" y="600" width="1" height="16" fill="#042fef"/>
<rect x="358" y="600" width="1" height="16" fill="#0637f4"/>
<rect x="361" y="600" width="1" height="16" fill="#0840f8"/>
<rect x="366" y="600" width="1" height="16" fill="#0d56f8"/>
<rect x="369" y="600" width="1" height="16" fill="#1064f8"/>
<rect x="374" y="600" width="1" height="16" fill="#1077f8"/>
<rect x="377" y="600" width="1" height="16" fill="#1082f8"/>
<rect x="382" y="600" width="1" height="16" fill="#1092f8"/>
<rect x="385" y="600" width="1" height="16" fill="#109bf8"/>
<rect x="388" y="600" width="1" height="16" fill="#10a5f8"/>
<rect x="393" y="600" width="1" height="16" fill="#10bbf3"/>
<rect x="396" y="600" width="1" height="16" fill="#10c8f0"/>
<rect x="401" y="600" width="1" height="16" fill="#10d7e1"/>
<rect x="404" y="600" width="1" height="16" fill="#10e0d8"/>
<rect x="407" y="600" width="1" height="16" fill="#10e0cb"/>
<rect x="412" y="600" width="1" height="16" fill="#10e0b7"/>
<rect x="415" y="600" width="1" height="16" fill="#10e0aa"/>
<rect x="420" y="600" width="1" height="16" fill="#10e093"/>
<rect x="423" y="600" width="1" height="16" fill="#10e086"/>
<rect x="426" y="600" width="1" height="16" fill="#10e078"/>
<rect x="431" y="600" width="1" height="16" fill="#10e052"/>
<rect x="434" y="600" width="1" height="16" fill="#10e03c"/>
<rect x="439" y="600" width="1" height="16" fill="#1be228"/>
<rect x="442" y="600" width="1" height="16" fill="#21e31c"/>
<rect x="445" y="600" width="1" height="16" fill="#28e410"/>
<rect x="450" y="600" width="1" height="16" fill="#38e40e"/>
<rect x="453" y="600" width="1" height="16" fill="#41e40c"/>
<rect x="458" y="600" width="1" height="16" fill="#51e40a"/>
<rect x="461" y="600" width="1" height="16" fill="#5ae408"/>
<rect x="464" y="600" width="1" height="16" fill="#65e406"/>
<rect x="469" y="600" width="1" height="16" fill="#77e402"/>
<rect x="472" y="600" width="1" height="16" fill="#82e400"/>
<rect x="477" y="600" width="1" height="16" fill="#94e600"/>
<rect x="480" y="600" width="1" height="16" fill="#9fe700"/>
<rect x="483" y="600" width="1" height="16" fill="#aae800"/>
<rect x="488" y="600" width="1" height="16" fill="#c0ea00"/>
<rect x="491" y="600" width="1" height="16" fill="#cdec00"/>
<rect x="496" y="600" width="1" height="16" fill="#e0ee00"/>
<rect x="499" y="600" width="1" height="16" fill="#ebf000"/>
<rect x="502" y="600" width="1" height="16" fill="#f2ea00"/>
<rect x="507" y="600" width="1" height="16" fill="#ffe100"/>
<rect x="510" y="600" width="1" height="16" fill="#ffd600"/>
<rect x="515" y="600" width="1" height="16" fill="#ffc400"/>
<rect x="518" y="600" width="1" height="16" fill="#ffb900"/>
<rect x="521" y="600" width="1" height="16" fill="#ffae00"/>
<rect x="526" y="600" width="1" height="16" fill="#ff9c00"/>
<rect x="529" y="600" width="1" height="16" fill="#ff9100"/>
<rect x="534" y="600" width="1" height="16" fill="#ff7500"/>
<rect x="537" y="600" width="1" height="16" fill="#ff6400"/>
<rect x="542" y="600" width="1" height="16" fill="#ff4b00"/>
<rect x="545" y="600" width="1" height="16" fill="#ff3c00"/>
<rect x="548" y="600" width="1" height="16" fill="#fe3104"/>
<rect x="553" y="600" width="1" height="16" fill="#fb1f0c"/>
<rect x="556" y="600" width="1" height="16" fill="#fa1410"/>
<rect x="561" y="600" width="1" height="16" fill="#f42a29"/>
<rect x="564" y="600" width="1" height="16" fill="#f03838"/>
<rect x="567" y="600" width="1" height="16" fill="#f04343"/>
<rect x="572" y="600" width="1" height="16" fill="#f05555"/>
<rect x="575" y="600" width="1" height="16" fill="#f06060"/>
<rect x="580" y="600" width="1" height="16" fill="#f06f6f"/>
<rect x="583" y="600" width="1" height="16" fill="#f07777"/>
<rect x="586" y="600" width="1" height="16" fill="#f08080"/>
</g>
</svg>
<div class="t thin" id="title" style="left:335px;top:79.3px;font-size:27px;letter-spacing:2.45px;word-spacing:4.9px;">density of cloud</div>
<div class="t thin" id="ylab" style="left:0;top:0;font-size:25px;letter-spacing:0.75px;transform-origin:0 0;transform:translate(69.5px,381px) rotate(-90deg);">Z&#8722;coordinate</div>
<div class="t thin" id="xlab" style="left:375px;top:515.6px;font-size:25px;letter-spacing:0.62px;">X&#8722;coordinate</div>
<div class="t yt" id="y15" style="top:215px;">15</div>
<div class="t yt" id="y10" style="top:295px;">10</div>
<div class="t yt" id="y5" style="top:375px;">5</div>
<div class="t xt" style="left:165.5px;">4</div>
<div class="t xt" style="left:216.3px;">8</div>
<div class="t xt" style="left:267px;">12</div>
<div class="t xt" style="left:318px;">16</div>
<div class="t xt" style="left:368.7px;">20</div>
<div class="t xt" style="left:419.5px;">24</div>
<div class="t xt" style="left:470.3px;">28</div>
<div class="t xt" style="left:521px;">32</div>
<div class="t xt" style="left:572px;">36</div>
<div class="t xt" style="left:622.7px;">40</div>
<div class="t xt" style="left:673.5px;">44</div>
<div class="t xt" style="left:724.3px;">48</div>
<div class="t un" id="unl" style="left:46.5px;top:480.5px;">(&#215;1000 m)</div>
<div class="t un" id="unr" style="left:684px;top:492.3px;">(&#215;1000 m)</div>
<div class="t ci" id="ci" style="left:303.5px;letter-spacing:-0.35px;word-spacing:3.4px;">CONTOUR INTERVAL</div>
<div class="t ci" id="ci2" style="left:480.3px;transform:scaleX(1.6);transform-origin:0 0;">=</div>
<div class="t ci" id="ci3" style="left:504.5px;letter-spacing:1.35px;">1.000E&#8722;04</div>
<div class="t cb" style="left:268px;">0.10000e&#8722;05</div>
<div class="t cb" style="left:318.7px;">0.60000e&#8722;04</div>
<div class="t cb" style="left:369.4px;">0.12000e&#8722;03</div>
<div class="t cb" style="left:420.1px;">0.18000e&#8722;03</div>
<div class="t cb" style="left:470.8px;">0.24000e&#8722;03</div>
<div class="t cb" style="left:521.5px;">0.30000e&#8722;03</div>
<div class="t" id="tt" style="left:633.3px;top:595px;font-size:17px;letter-spacing:1.5px;-webkit-text-stroke:0.4px #fff;">t=561000 s</div>
<div class="t ft" id="f1" style="left:25px;top:643.3px;letter-spacing:1.05px;">/usr/bin/gpview</div>
<div class="t ft" id="f1b" style="left:114.3px;top:643.3px;letter-spacing:1.17px;">2008&#8722;12&#8722;29</div>
<div class="t ft" id="f2" style="left:517.5px;top:643.3px;letter-spacing:0.51px;">MarsCond_DensCloud.nc@DensCloud,x=0:50000,z=0:20000,t=561000</div>
<style>
.ci{top:568.3px;font-size:17px;-webkit-text-stroke:0.3px #000;}
.thin{-webkit-text-stroke:0.45px #fff;}
.xt{top:469px;width:40px;text-align:center;font-size:19.5px;letter-spacing:0.6px;text-indent:0.6px;-webkit-text-stroke:0.35px #000;}
.yt{left:86px;width:41.4px;text-align:right;font-size:19.5px;letter-spacing:0.8px;-webkit-text-stroke:0.35px #000;}
.un{font-size:16.5px;letter-spacing:1.32px;word-spacing:2px;transform:scaleX(1.1);transform-origin:0 0;-webkit-text-stroke:0.3px #000;}
.cb{top:621.5px;font-size:16.5px;letter-spacing:0.74px;transform:scaleX(1.1);transform-origin:0 0;-webkit-text-stroke:0.3px #000;}
.ft{font-size:9.5px;}
</style>

</body></html>
